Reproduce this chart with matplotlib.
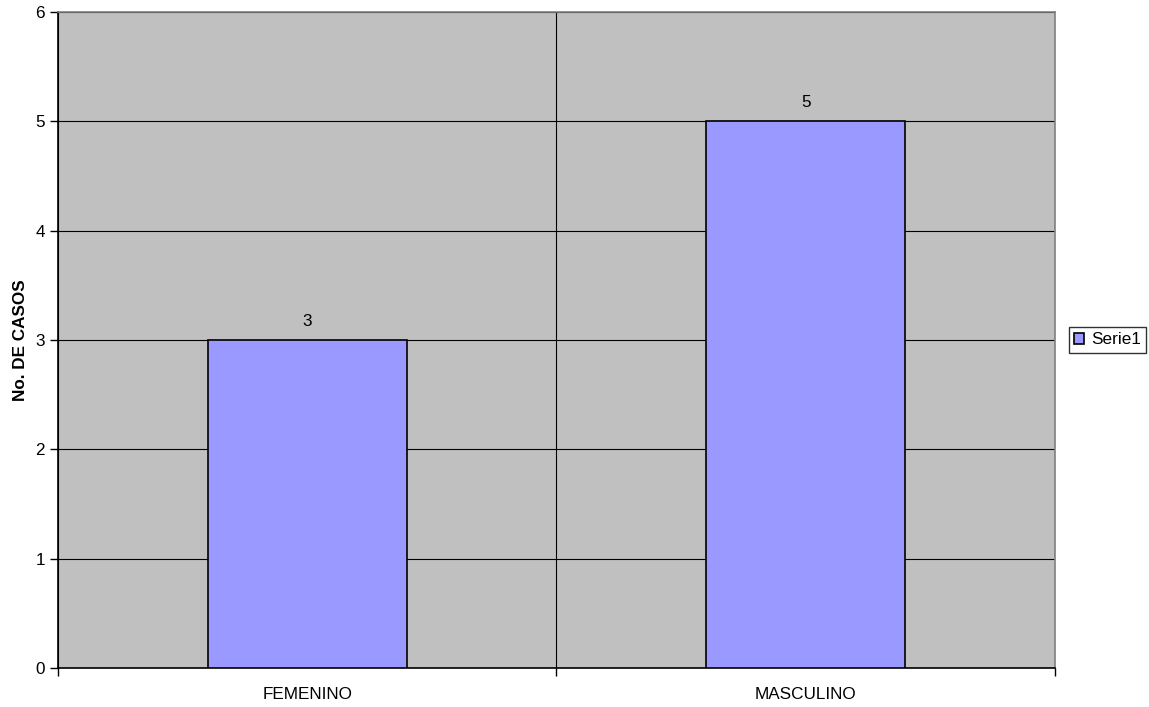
import matplotlib

matplotlib.use("Agg")
import matplotlib.pyplot as plt  # noqa: E402
from matplotlib.ticker import FixedLocator  # noqa: E402

categorias = ["FEMENINO", "MASCULINO"]
casos = [3, 5]
serie = "Serie1"

plt.rcParams["font.family"] = ["Liberation Sans", "DejaVu Sans"]

fig = plt.figure(figsize=(11.49, 7.07), dpi=100)
ax = fig.add_axes([0.0505, 0.0552, 0.8675, 0.9278])
ax.set_facecolor("#c0c0c0")

x = list(range(len(categorias)))
bars = ax.bar(x, casos, width=0.4, color="#9999ff", edgecolor="black",
              linewidth=1.2, label=serie, zorder=3)
for b, v in zip(bars, casos):
    ax.annotate(str(v), (b.get_x() + b.get_width() / 2, v), xytext=(0, 8),
                textcoords="offset points", ha="center", va="bottom", fontsize=12.3)

ax.set_xlim(-0.5, len(categorias) - 0.5)
ax.set_ylim(0, 6)
ax.set_yticks(range(0, 7))
ax.set_xticks(x)
ax.set_xticklabels(categorias, fontsize=12.3)
ax.xaxis.set_minor_locator(FixedLocator([i - 0.5 for i in range(len(categorias) + 1)]))
ax.tick_params(axis="x", which="major", length=0, pad=14)
ax.tick_params(axis="x", which="minor", length=6, width=1, color="black")
ax.tick_params(axis="y", length=6, width=1, labelsize=12.3, pad=3.5)

# rejilla: horizontales en cada entero, vertical entre categorias
ax.grid(axis="y", color="black", linewidth=0.8, zorder=1)
ax.grid(axis="x", which="minor", color="black", linewidth=0.8, zorder=1)
ax.set_axisbelow(True)

for s in ("left", "bottom"):
    ax.spines[s].set_color("black")
    ax.spines[s].set_linewidth(1.2)
for s in ("top", "right"):
    ax.spines[s].set_color("#808080")
    ax.spines[s].set_linewidth(1.2)

ax.set_ylabel("No. DE CASOS", fontsize=12.3, fontweight="bold", labelpad=5)

leg = ax.legend(loc="center left", bbox_to_anchor=(1.014, 0.5), fontsize=12.3,
                frameon=True, fancybox=False, edgecolor="black",
                handlelength=0.6, handleheight=0.6, handletextpad=0.4,
                borderpad=0.3, borderaxespad=0)
leg.get_frame().set_linewidth(1.0)

fig.savefig("out.png", dpi=100)
